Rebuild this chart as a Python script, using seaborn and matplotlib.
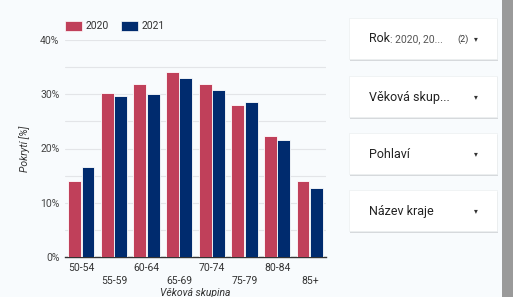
import pandas as pd
import matplotlib.pyplot as plt
import seaborn as sns
from matplotlib.patches import Rectangle

# data
age_groups = ['50-54', '55-59', '60-64', '65-69', '70-74', '75-79', '80-84', '85+']
cov_2020 = [14.0, 30.2, 31.9, 34.1, 31.9, 28.0, 22.3, 14.0]
cov_2021 = [16.6, 29.7, 30.1, 33.0, 30.8, 28.6, 21.6, 12.7]
years = ['2020', '2021']
filters = ['Věková skup...', 'Pohlaví', 'Název kraje']

df = pd.DataFrame({
    'group': age_groups * 2,
    'year': [years[0]] * len(age_groups) + [years[1]] * len(age_groups),
    'value': cov_2020 + cov_2021,
})

sns.set_style('white')
plt.rcParams['font.family'] = ['Roboto', 'DejaVu Sans']

W, H = 513, 297
bg = '#f8fbfd'
colors = ['#c0405a', '#002b6e']
fig = plt.figure(figsize=(W / 100, H / 100), dpi=100, facecolor=bg)

ax = fig.add_axes([65 / W, (H - 257) / H, 261 / W, 217 / H], facecolor=bg)
sns.barplot(data=df, x='group', y='value', hue='year', order=age_groups,
            palette=colors, saturation=1, width=0.82, gap=0.03,
            edgecolor='white', linewidth=0.6, ax=ax, legend=False, zorder=3)

ax.set_ylim(0, 40)
ax.set_xlim(-0.5, 7.5)
ax.set_yticks([0, 10, 20, 30, 40])
ax.set_yticks([5, 15, 25, 35], minor=True)
ax.set_yticklabels([f'{v}%' for v in [0, 10, 20, 30, 40]], fontsize=7.5, color='#444444')
ax.grid(axis='y', which='both', color='#e3e5e8', linewidth=0.8, zorder=0)
ax.tick_params(axis='y', which='both', length=0, pad=4)
ax.tick_params(axis='x', length=0, pad=4)
ax.set_xticks(range(len(age_groups)))
ax.set_xticklabels([g if i % 2 == 0 else '\n' + g for i, g in enumerate(age_groups)],
                   fontsize=7.5, color='#333333', linespacing=1.45)
for s in ['top', 'right', 'left']:
    ax.spines[s].set_visible(False)
ax.spines['bottom'].set_color('#333333')
ax.spines['bottom'].set_linewidth(1)
ax.set_xlabel('Věková skupina', fontsize=7.5, style='italic', color='#333333', labelpad=1)
ax.set_ylabel('Pokrytí [%]', fontsize=7.5, style='italic', color='#333333', labelpad=7)

# legend drawn as swatches
for x0, c, lab in zip([65, 121], colors, years):
    fig.patches.append(Rectangle((x0 / W, (H - 31) / H), 17 / W, 10 / H,
                                 transform=fig.transFigure, facecolor=c,
                                 edgecolor='white', linewidth=0.5))
    fig.text((x0 + 21) / W, (H - 26) / H, lab, fontsize=7.5, color='#333333', va='center')

# filter cards
cards_y = [18, 76, 133, 190]
labels = ['Rok'] + filters
for y0, lab in zip(cards_y, labels):
    fig.patches.append(Rectangle(((349 + 0.5) / W, (H - y0 - 41 - 1.5) / H), 148 / W, 41 / H,
                                 transform=fig.transFigure, facecolor='#d6d9dc',
                                 edgecolor='none'))
    fig.patches.append(Rectangle((349 / W, (H - y0 - 41) / H), 148 / W, 41 / H,
                                 transform=fig.transFigure, facecolor='white',
                                 edgecolor='#eceff1', linewidth=0.5))
    yc = (H - y0 - 21) / H
    fig.text(369 / W, yc, lab, fontsize=9, color='#222222', va='center')
    if lab == 'Rok':
        fig.text(390 / W, yc, ': 2020, 20...', fontsize=7.5, color='#555555', va='center')
        fig.text(457 / W, yc, '(2)', fontsize=6.5, color='#333333', va='center')
    fig.text(476 / W, yc, '▾', fontsize=5.5, color='#333333', va='center', ha='center',
             family=['DejaVu Sans'])

# scrollbar
fig.patches.append(Rectangle((502 / W, 0), 11 / W, 1, transform=fig.transFigure,
                             facecolor='#9a9a9a', edgecolor='none'))

fig.savefig('out.png', dpi=100, facecolor=bg)
